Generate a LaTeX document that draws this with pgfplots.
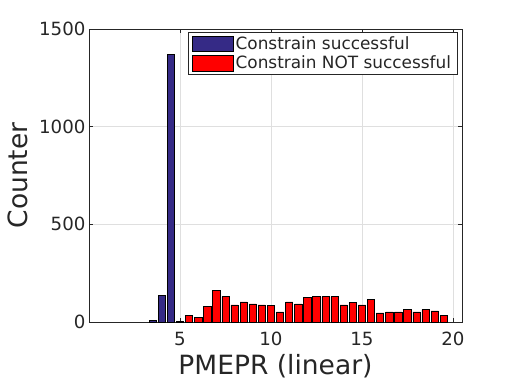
\documentclass[border=0pt]{standalone}
\usepackage{fontspec}
\setmainfont{DejaVu Sans}
\usepackage{pgfplots}
\pgfplotsset{compat=1.18}
\definecolor{mblue}{RGB}{53,42,134}
\definecolor{mtext}{RGB}{38,38,38}
\definecolor{mgrid}{RGB}{223,223,223}

\begin{document}
\begin{tikzpicture}[x=1pt,y=1pt]
\path[use as bounding box] (0,0) rectangle (512,384);
\begin{axis}[
  at={(89pt,62pt)}, anchor=south west,
  scale only axis, width=373pt, height=293pt,
  xmin=0, xmax=20.5, ymin=0, ymax=1500,
  xtick={5,10,15,20}, ytick={0,500,1000,1500},
  scaled y ticks=false,
  tick align=inside, major tick length=4pt, tick pos=both,
  grid=major, major grid style={draw=mgrid, line width=0.6pt},
  axis line style={draw=mtext, line width=0.6pt},
  tick style={draw=mtext, line width=0.6pt},
  ticklabel style={font=\fontsize{18.2}{21}\selectfont, text=mtext},
  xticklabel style={yshift=-6.5pt},
  /pgf/number format/assume math mode=true,
  /pgf/number format/1000 sep={},
  xlabel={PMEPR (linear)}, ylabel={Counter},
  label style={font=\fontsize{26.5}{30}\selectfont, text=mtext},
  xlabel style={yshift=-2pt},
  ylabel style={yshift=4pt},
  legend style={at={(1,1)}, anchor=north east, xshift=-4.6pt, yshift=-3.3pt,
    draw=mtext, line width=0.6pt, fill=white,
    font=\fontsize{16.9}{19}\selectfont, text=mtext,
    inner xsep=4pt, inner ysep=2pt, row sep=1pt,
    cells={anchor=west}},
  legend image code/.code={\draw[#1, draw=black, line width=0.6pt] (0pt,-7.8pt) rectangle (41pt,7.8pt);},
]
\addplot[ybar, bar width=0.4, bar shift=0pt, fill=mblue, draw=black, line width=0.6pt] coordinates {
  (3.5,8) (4.0,135) (4.5,1370) (5.0,4)
};
\addlegendentry{Constrain successful}
\addplot[ybar, bar width=0.4, bar shift=0pt, fill=red, draw=black, line width=0.6pt] coordinates {
  (5.5,32) (6.0,25) (6.5,78) (7.0,160) (7.5,130) (8.0,88) (8.5,103) (9.0,93)
  (9.5,88) (10.0,83) (10.5,52) (11.0,103) (11.5,93) (12.0,124) (12.5,130)
  (13.0,130) (13.5,130) (14.0,88) (14.5,99) (15.0,88) (15.5,114) (16.0,47)
  (16.5,52) (17.0,52) (17.5,63) (18.0,52) (18.5,63) (19.0,57) (19.5,32)
};
\addlegendentry{Constrain NOT successful}
\end{axis}
\end{tikzpicture}
\end{document}
